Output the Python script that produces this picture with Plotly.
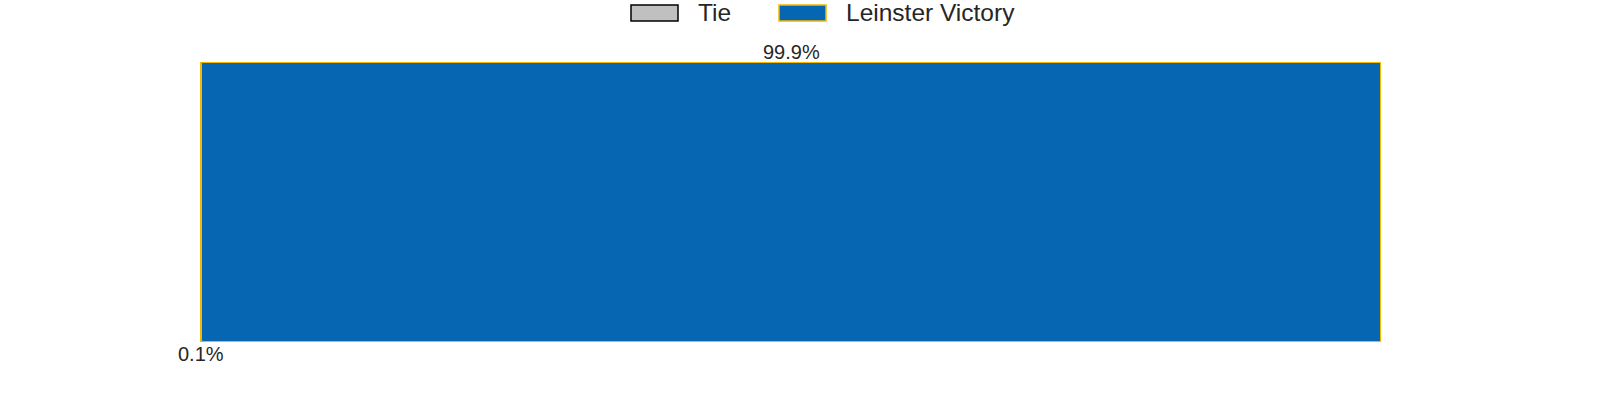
import plotly.graph_objects as go

outcomes = ["Tie", "Leinster Victory"]
percentages = [0.1, 99.9]
fill_colors = ["#c0c0c0", "#0766b1"]
line_colors = ["#000000", "#f5b800"]
label_sides = ["below", "above"]

W, H = 1600, 400
ML, MR, MT, MB = 200, 219, 62, 58
PW, PH = W - ML - MR, H - MT - MB


def px_x(px):
    return (px - ML) / PW


def px_y(py):
    return (H - MB - py) / PH


FONT = "Liberation Sans, Arial, sans-serif"
TXT = "#262626"

fig = go.Figure()
for name, pct, fc, lc in zip(outcomes, percentages, fill_colors, line_colors):
    fig.add_trace(go.Bar(
        x=[pct], y=["match"], orientation="h", name=name,
        marker=dict(color=fc, line=dict(color=lc, width=1.5)),
        width=1.0, hoverinfo="skip", showlegend=False,
    ))

cum = 0
for pct, side in zip(percentages, label_sides):
    mid = cum + pct / 2
    cum += pct
    fig.add_annotation(
        x=mid, y=0.5 if side == "above" else -0.5, xref="x", yref="y",
        text=f"{pct:.1f}%", showarrow=False,
        yanchor="bottom" if side == "above" else "top",
        yshift=-3 if side == "above" else 1,
        font=dict(size=20, color=TXT, family=FONT),
    )

# legend (drawn manually to match wide rectangular swatches)
legend_swatch_left = [631, 779]
sw_w, sw_top, sw_bot = 47, 5, 21
for name, fc, lc, left in zip(outcomes, fill_colors, line_colors, legend_swatch_left):
    fig.add_shape(type="rect", xref="paper", yref="paper",
                  x0=px_x(left), x1=px_x(left + sw_w), y0=px_y(sw_bot), y1=px_y(sw_top),
                  fillcolor=fc, line=dict(color=lc, width=1.5))
    fig.add_annotation(x=px_x(left + sw_w + 18), y=px_y(13), xref="paper", yref="paper",
                       text=name, showarrow=False, xanchor="left", yanchor="middle",
                       font=dict(size=24.5, color=TXT, family=FONT))

fig.update_layout(
    barmode="stack",
    width=W, height=H,
    margin=dict(l=ML, r=MR, t=MT, b=MB, autoexpand=False),
    plot_bgcolor="white", paper_bgcolor="white",
    xaxis=dict(range=[0, 100], visible=False, fixedrange=True),
    yaxis=dict(range=[-0.5, 0.5], visible=False, fixedrange=True),
    showlegend=False,
    font=dict(family=FONT, color=TXT),
)

fig.write_html("out.html", config={"displayModeBar": False},
               post_script="document.body.style.margin='0';")
